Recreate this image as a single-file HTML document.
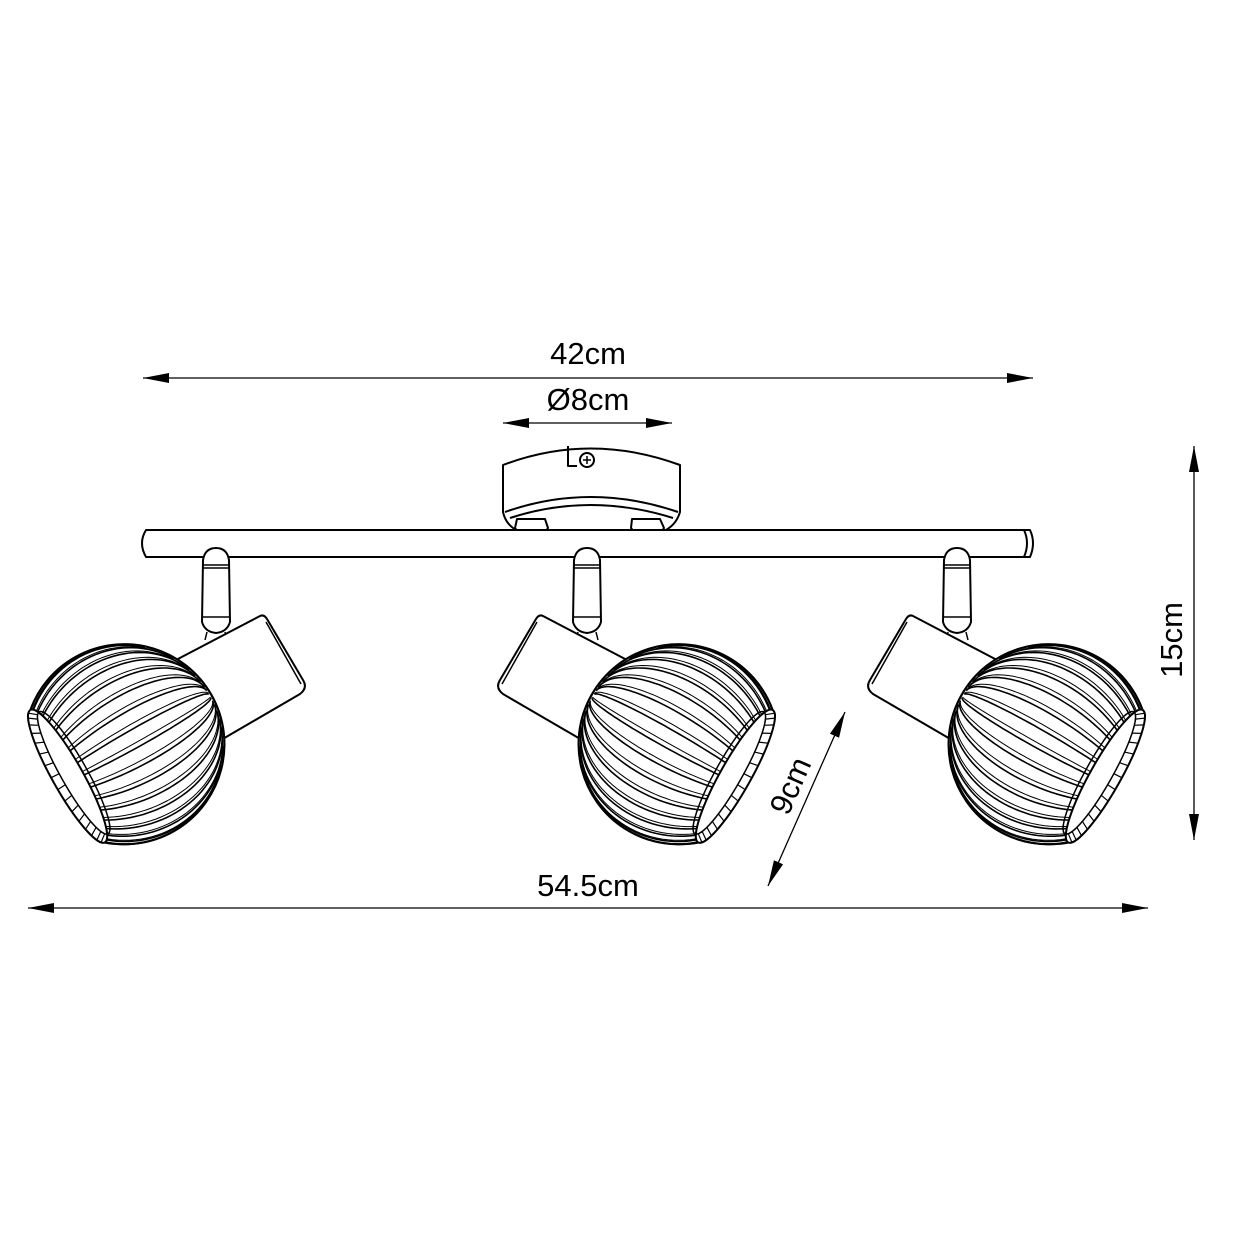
<!DOCTYPE html>
<html><head><meta charset="utf-8"><style>
html,body{margin:0;padding:0;background:#fff;}
svg{display:block;}
text{font-family:"Liberation Sans",Arial,sans-serif;font-size:31px;fill:#000;}
</style></head><body>
<svg id="s" width="1240" height="1240" viewBox="0 0 1240 1240" xmlns="http://www.w3.org/2000/svg">
<defs>
<marker id="a" viewBox="0 0 26 10" refX="26" refY="5" markerWidth="26" markerHeight="10" markerUnits="userSpaceOnUse" orient="auto-start-reverse">
<path d="M0,0 L26,5 L0,10 Z" fill="#000"/></marker>
</defs>
<g stroke="#000" stroke-width="1.3" fill="none">
<line x1="143" y1="378" x2="1033" y2="378" marker-start="url(#a)" marker-end="url(#a)"/>
<line x1="503" y1="423" x2="672" y2="423" marker-start="url(#a)" marker-end="url(#a)"/>
<line x1="28" y1="908" x2="1148" y2="908" marker-start="url(#a)" marker-end="url(#a)"/>
<line x1="1194" y1="446" x2="1194" y2="840" marker-start="url(#a)" marker-end="url(#a)"/>
<line x1="845" y1="712" x2="768" y2="886" marker-start="url(#a)" marker-end="url(#a)"/>
</g>
<text x="588" y="364" text-anchor="middle">42cm</text>
<text x="588" y="410" text-anchor="middle">Ø8cm</text>
<text x="588" y="896" text-anchor="middle">54.5cm</text>
<text transform="translate(1182,640) rotate(-90)" text-anchor="middle">15cm</text>
<text transform="translate(800,790) rotate(-66)" text-anchor="middle">9cm</text>

<g stroke="#000" stroke-width="2" fill="#fff" stroke-linejoin="round">
<path d="M503,465 Q590,432 680,465 L680,512 Q676,526 662,532 L520,532 Q506,526 503,512 Z"/>
<path d="M505,512 Q590,482 678,512" fill="none"/>
<path d="M510,518 Q590,492 673,518" fill="none"/>
<path d="M517,519 L545,519 L548,528 L544,534 L520,534 L515,528 Z"/>
<path d="M632,519 L660,519 L664,528 L660,534 L636,534 L631,528 Z"/>
<path d="M568,446 L568,466 L577,466" fill="none"/>
<circle cx="587" cy="460" r="7"/>
<path d="M583,460 h8 M587,456 v8" fill="none" stroke-width="1.5"/>
<path d="M146,530 L1030,530 Q1036,543 1030,557 L146,557 Q138,543 146,530 Z"/>
<path d="M1024,530 Q1030,543 1024,557" fill="none"/>
</g>
<g id="lamps" stroke="#000" fill="none" stroke-linejoin="round"></g>
</svg>
<script>
var NS="http://www.w3.org/2000/svg";
function f1(n){return n.toFixed(1);}
function shade(){
  var h='';
  var C=[680,745], R=100, rr=76;
  var u=[0.87,0.49], v=[-0.49,0.87];
  var sb=0.2, cb=Math.sqrt(1-sb*sb);
  function P(th,ph){
    var c=Math.cos(th), s=Math.sin(th), cp=Math.cos(ph), sp=Math.sin(ph);
    var x=R*(c*cb*u[0] + s*(cp*v[0] - sp*sb*u[0]));
    var y=R*(c*cb*u[1] + s*(cp*v[1] - sp*sb*u[1]));
    var z=R*(c*sb + s*sp*cb);
    return [C[0]+x,C[1]+y,z];
  }
  var thRim=Math.acos(Math.sqrt(R*R-rr*rr)/R);
  var rc=[C[0]+R*Math.cos(thRim)*cb*u[0], C[1]+R*Math.cos(thRim)*cb*u[1]];
  var rimTop=[rc[0]-rr*v[0], rc[1]-rr*v[1]];
  var rimBot=[rc[0]+rr*v[0], rc[1]+rr*v[1]];
  h+='<path d="M'+f1(rimTop[0])+','+f1(rimTop[1])+' A'+R+','+R+' 0 1 0 '+f1(rimBot[0])+','+f1(rimBot[1])+' Z" fill="#fff" stroke-width="2.2"/>';
  var N=34;
  for(var i=0;i<N;i++){
    var base=i*2*Math.PI/N;
    for(var k=0;k<2;k++){
      var ph=base+k*0.05;
      var d='',pen=false;
      for(var j=0;j<=40;j++){
        var th=thRim+(Math.PI-thRim)*j/40;
        var p=P(th,ph);
        if(p[2]>0){ d+=(pen?' L':'M')+f1(p[0])+','+f1(p[1]); pen=true;} else pen=false;
      }
      if(d) h+='<path d="'+d+'" stroke-width="'+(k?1:1.6)+'"/>';
    }
  }
  var ang=Math.atan2(u[1],u[0])*180/Math.PI;
  var rx=rr*sb;
  h+='<ellipse cx="'+f1(rc[0])+'" cy="'+f1(rc[1])+'" rx="'+f1(rx)+'" ry="'+rr+'" transform="rotate('+f1(ang)+' '+f1(rc[0])+' '+f1(rc[1])+')" fill="#fff" stroke-width="2"/>';
  var ic=[rc[0]-7*u[0], rc[1]-7*u[1]];
  h+='<ellipse cx="'+f1(ic[0])+'" cy="'+f1(ic[1])+'" rx="'+f1(rx-2)+'" ry="'+(rr-6)+'" transform="rotate('+f1(ang)+' '+f1(ic[0])+' '+f1(ic[1])+')" stroke-width="1.5"/>';
  var ca=Math.cos(ang*Math.PI/180), sa=Math.sin(ang*Math.PI/180);
  for(var j=0;j<16;j++){
    var t=-1.35+j*0.18;
    var x1=rx*Math.cos(t), y1=rr*Math.sin(t);
    var x2=(rx-2)*Math.cos(t)-7, y2=(rr-6)*Math.sin(t);
    h+='<line x1="'+f1(rc[0]+x1*ca-y1*sa)+'" y1="'+f1(rc[1]+x1*sa+y1*ca)+'" x2="'+f1(rc[0]+x2*ca-y2*sa)+'" y2="'+f1(rc[1]+x2*sa+y2*ca)+'" stroke-width="1.2"/>';
  }
  return h;
}
function lamp(tx,mirror){
  var g=document.createElementNS(NS,"g");
  var t=mirror?"translate("+(tx+587)+",0) scale(-1,1) translate(-587,0)":"translate("+tx+",0)";
  g.setAttribute("transform",t);
  var h='';
  h+='<path d="M574,560 Q576,548 587,548 Q598,548 600,560 L601,622 Q598,632 587,633 Q576,632 573,622 Z" fill="#fff" stroke-width="2"/>';
  h+='<path d="M574,565 L600,565 M574,568 L600,568 M573,617 L601,617" stroke-width="1.5"/>';
  h+='<path d="M578,632 L576,640 M596,632 L598,640" stroke-width="1.5"/>';
  h+='<path d="M543,616 L627,660 L582,740 L503,694 Q495,688 500,680 L536,619 Q539,614 543,616 Z" fill="#fff" stroke-width="2"/>';
  h+='<path d="M537,622 L502,684" stroke-width="1.5"/>';
  h+=shade();
  g.innerHTML=h;
  document.getElementById("lamps").appendChild(g);
}
lamp(0,false);
lamp(370,false);
lamp(-371,true);
</script>
</body></html>
